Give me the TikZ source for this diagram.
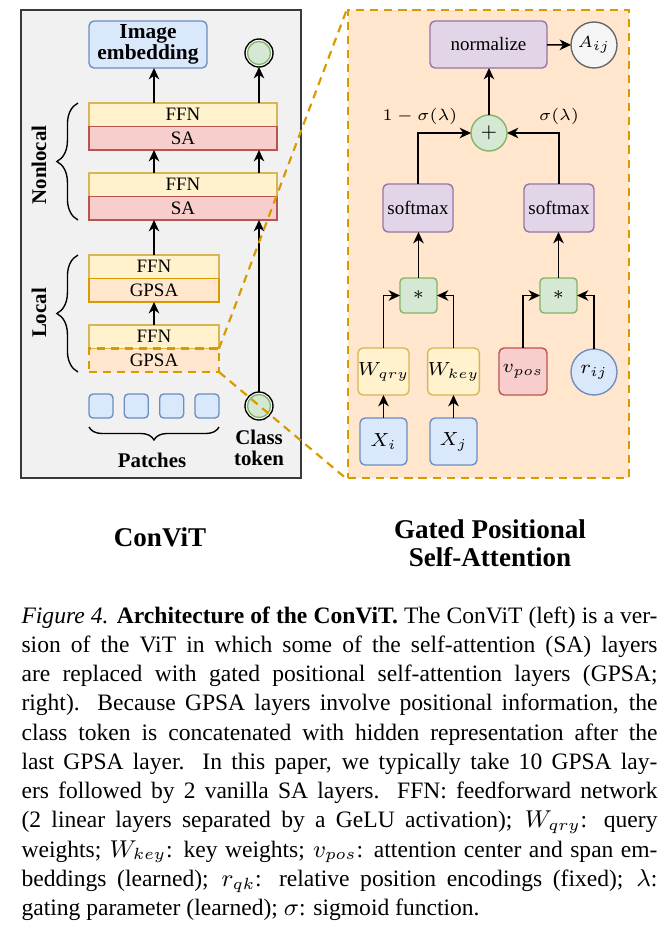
\documentclass[tikz,border=0pt]{standalone}
\usepackage{fontspec}
\setmainfont{Liberation Serif}
\usetikzlibrary{positioning,arrows.meta,decorations.pathreplacing}
\newlength\pxu
\setlength\pxu{0.3693pt}
\definecolor{bluf}{HTML}{DAE8FC}
\definecolor{blud}{HTML}{6C8EBF}
\definecolor{yelf}{HTML}{FFF2CC}
\definecolor{yeld}{HTML}{D6B656}
\definecolor{redf}{HTML}{F8CECC}
\definecolor{redd}{HTML}{B85450}
\definecolor{oraf}{HTML}{FFE6CC}
\definecolor{orad}{HTML}{D79B00}
\definecolor{grnf}{HTML}{D5E8D4}
\definecolor{grnd}{HTML}{82B366}
\definecolor{purf}{HTML}{E1D5E7}
\definecolor{purd}{HTML}{9673A6}
\definecolor{grayf}{HTML}{F5F5F5}
\definecolor{grayd}{HTML}{666666}
\definecolor{panf}{HTML}{F1F1F1}
\definecolor{pand}{HTML}{36393D}

\begin{document}
\begin{tikzpicture}[x=0.3693pt,y=-0.3693pt,
  arr/.style={-{Stealth[length=4.2pt,width=3.9pt,inset=1.3pt]},line width=0.55pt},
  blk/.style={draw,rectangle,inner sep=0pt,outer sep=0pt,line width=0.5pt,font=\fontsize{7}{8}\selectfont},
  wide/.style={blk,minimum width=188\pxu,minimum height=23.5\pxu},
  narrow/.style={blk,minimum width=130\pxu,minimum height=23.5\pxu},
  ffnbox/.style={fill=yelf,draw=yeld},
  sabox/.style={fill=redf,draw=redd},
  gpsabox/.style={fill=oraf,draw=orad},
  rbox/.style={blk,rounded corners=5\pxu,minimum width=47\pxu,minimum height=47\pxu,font=\fontsize{6.8}{8}\selectfont},
  rnd/.style={circle,draw,inner sep=0pt,outer sep=0pt,line width=0.5pt,font=\fontsize{6.8}{8}\selectfont},
  lbl/.style={font=\fontsize{7.7}{7.5}\selectfont\bfseries,align=center,inner sep=0pt},
  tok/.style={circle,draw=black,fill=white,line width=0.5pt,minimum size=28\pxu,inner sep=0pt,outer sep=0pt,
    path picture={\draw[draw=grnd,fill=grnf,line width=0.5pt] (path picture bounding box.center) circle (11.5\pxu);}},
  brc/.style={decorate,decoration={brace,amplitude=#1},line width=0.5pt},
  zoomln/.style={draw=orad,line width=0.8pt,dash pattern=on 3pt off 2.2pt},
]
\useasboundingbox (0,0) rectangle (666,930);
\node[draw=pand,fill=panf,line width=0.7pt,minimum width=280\pxu,minimum height=468\pxu,anchor=north west,inner sep=0pt] (convit) at (20,9) {};
\node[fill=oraf,zoomln,minimum width=281\pxu,minimum height=468\pxu,anchor=north west,inner sep=0pt] (gpsapanel) at (347,9) {};

\node[blk,fill=bluf,draw=blud,rounded corners=5\pxu,minimum width=118\pxu,minimum height=47\pxu,font=\fontsize{7.9}{7.5}\selectfont\bfseries,align=center] (img) at (148,44.5) {Image\\embedding};
\node[tok] (outtok) at (259,53) {};
\node[wide,ffnbox] (ffn4) at (183,114.75) {FFN};
\node[wide,sabox,below=0pt of ffn4] (sa4) {SA};
\node[wide,ffnbox] (ffn3) at (183,184.75) {FFN};
\node[wide,sabox,below=0pt of ffn3] (sa3) {SA};
\node[narrow,ffnbox] (ffn2) at (154,266.75) {FFN};
\node[narrow,gpsabox,below=0pt of ffn2] (gpsa2) {GPSA};
\node[narrow,ffnbox] (ffn1) at (154,336.75) {FFN};
\node[narrow,gpsabox,zoomln,below=0pt of ffn1] (gpsa1) {GPSA};
\node[lbl,rotate=90] (nonloc) at (39,165) {Nonlocal};
\node[lbl,rotate=90] (loc) at (39,313) {Local};
\draw[brc=7.8pt] ([xshift=-11\pxu]sa3.south west) -- ([xshift=-11\pxu]ffn4.north west);
\draw[brc=7.8pt] ([xshift=-11\pxu]gpsa1.south west) -- ([xshift=-11\pxu]ffn2.north west);
\foreach \i/\x in {1/101,2/136.3,3/171.7,4/207}
  \node[blk,fill=bluf,draw=blud,rounded corners=4\pxu,minimum size=24\pxu] (p\i) at (\x,406) {};
\draw[brc=4.8pt] ([yshift=-9\pxu]p4.south east) -- ([yshift=-9\pxu]p1.south west);
\node[lbl] (patlbl) at (152,460) {Patches};
\node[tok] (cls) at (259,406) {};
\node[lbl] (clslbl) at (259,448) {Class\\token};

\draw[arr] (ffn1.north) -- (gpsa2.south);
\draw[arr] (ffn2.north) -- (ffn2.north |- sa3.south);
\draw[arr] (ffn3.north -| ffn2.north) -- (sa4.south -| ffn2.north);
\draw[arr] (ffn4.north -| ffn2.north) -- (img.south -| ffn2.north);
\draw[arr] (cls.north) -- (cls.north |- sa3.south);
\draw[arr] (ffn3.north -| cls.north) -- (sa4.south -| cls.north);
\draw[arr] (ffn4.north -| cls.north) -- (outtok.south);

\node[blk,fill=purf,draw=purd,rounded corners=5\pxu,minimum width=117\pxu,minimum height=47\pxu] (norm) at (488.5,44.5) {normalize};
\node[rnd,fill=grayf,draw=grayd,minimum size=46\pxu,font=\fontsize{6}{7}\selectfont] (aij) at (594,45) {$A_{ij}$};
\node[rnd,fill=grnf,draw=grnd,minimum size=36\pxu] (plus) at (489,133) {$+$};
\node[blk,fill=purf,draw=purd,rounded corners=5\pxu,minimum width=70\pxu,minimum height=48\pxu] (smL) at (418,208) {softmax};
\node[blk,fill=purf,draw=purd,rounded corners=5\pxu,minimum width=70\pxu,minimum height=48\pxu] (smR) at (559,208) {softmax};
\node[blk,fill=grnf,draw=grnd,rounded corners=4\pxu,minimum width=37\pxu,minimum height=35\pxu] (mulL) at (418.5,295.5) {$*$};
\node[blk,fill=grnf,draw=grnd,rounded corners=4\pxu,minimum width=37\pxu,minimum height=35\pxu] (mulR) at (558.5,295.5) {$*$};
\node[rbox,ffnbox] (wq) at (383.5,371.5) {$W_{qry}$};
\node[rbox,ffnbox] (wk) at (453.5,371.5) {$W_{key}$};
\node[rbox,sabox,minimum width=48\pxu] (vp) at (523,371.5) {$v_{pos}$};
\node[rnd,fill=bluf,draw=blud,minimum size=46\pxu] (rij) at (594,372) {$r_{ij}$};
\node[rbox,fill=bluf,draw=blud] (xi) at (383.5,441.5) {$X_i$};
\node[rbox,fill=bluf,draw=blud] (xj) at (453.5,441.5) {$X_j$};
\node[font=\fontsize{6.5}{8}\selectfont] (lblL) at (420,116) {$1-\sigma(\lambda)$};
\node[font=\fontsize{6.5}{8}\selectfont] (lblR) at (559,116) {$\sigma(\lambda)$};

\draw[arr] (norm) -- (aij);
\draw[arr] (plus.north) -- (plus.north |- norm.south);
\draw[arr] (smL.north) |- (plus.west);
\draw[arr] (smR.north) |- (plus.east);
\draw[arr] (mulL.north) -- (mulL.north |- smL.south);
\draw[arr] (mulR.north) -- (mulR.north |- smR.south);
\draw[arr] (wq.north) |- (mulL.west);
\draw[arr] (wk.north) |- (mulL.east);
\draw[arr] (vp.north) |- (mulR.west);
\draw[arr] (rij.north) |- (mulR.east);
\draw[arr] (xi.north) -- (wq.south);
\draw[arr] (xj.north) -- (wk.south);

\draw[zoomln] (gpsa1.north east) -- (gpsapanel.north west);
\draw[zoomln] (gpsa1.south east) -- (gpsapanel.south west);

\node[font=\fontsize{10}{10.4}\selectfont\bfseries] (ttlL) at (160,537) {ConViT};
\node[font=\fontsize{10}{10.4}\selectfont\bfseries,align=center] (ttlR) at (490,543) {Gated Positional\\Self-Attention};
\node[anchor=north west,inner sep=0pt,text width=636\pxu,align=justify,font=\fontsize{8.7}{10.8}\selectfont] (capt) at (21,606)
{\hyphenpenalty=10000\tolerance=9999
\textit{Figure 4.} \textbf{Architecture of the ConViT.} The ConViT (left) is a ver-\linebreak
sion of the ViT in which some of the self-attention (SA) layers\linebreak
are replaced with gated positional self-attention layers (GPSA;\linebreak
right). Because GPSA layers involve positional information, the\linebreak
class token is concatenated with hidden representation after the\linebreak
last GPSA layer. In this paper, we typically take 10 GPSA lay-\linebreak
ers followed by 2 vanilla SA layers. FFN: feedforward network\linebreak
(2 linear layers separated by a GeLU activation); $W_{qry}$: query\linebreak
weights; $W_{key}$: key weights; $v_{pos}$: attention center and span em-\linebreak
beddings (learned); $r_{qk}$: relative position encodings (fixed); $\lambda$:\linebreak
gating parameter (learned); $\sigma$: sigmoid function.};
\end{tikzpicture}
\end{document}
